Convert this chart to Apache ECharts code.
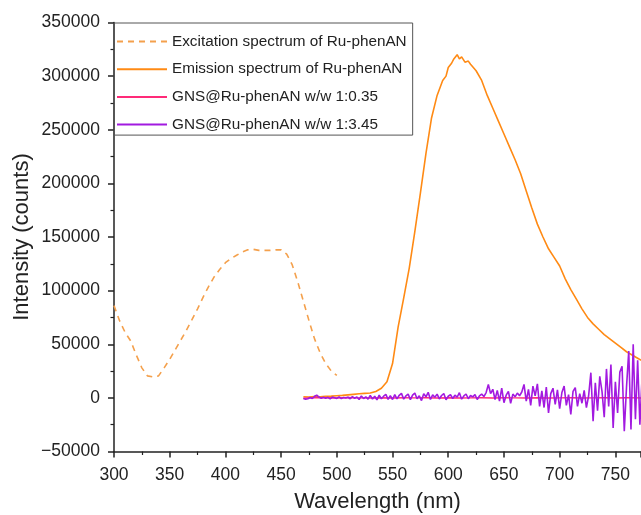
<!DOCTYPE html>
<html>
<head>
<meta charset="utf-8">
<script src="https://cdn.jsdelivr.net/npm/echarts@6/dist/echarts.min.js"></script>
<style>
html,body{margin:0;padding:0;background:#fff;}
#chart{width:641px;height:515px;}
</style>
</head>
<body>
<div id="chart"></div>
<script>
var seriesNames = [
  'Excitation spectrum of Ru-phenAN',
  'Emission spectrum of Ru-phenAN',
  'GNS@Ru-phenAN w/w 1:0.35',
  'GNS@Ru-phenAN w/w 1:3.45'
];

var excWl = [300,305,310,315,320,325,330,335,340,345,350,355,360,365,370,375,380,385,390,395,400,405,410,415,420,425,430,435,440,445,450,455,460,465,470,475,480,485,490,495,500];
var excVal = [86000,72000,61000,53000,40000,28000,20500,19500,20500,28000,36000,45000,54000,63000,73000,83000,94000,104000,113000,120000,126000,130000,133000,136000,138000,138500,137500,137500,137500,138000,138000,134000,124000,108000,90000,72000,55000,42000,32000,25000,21000];

var emWl = [470,475,480,485,490,495,500,505,510,515,520,525,530,535,540,545,550,555,560,565,570,575,580,585,590,595,598,600,603,605,608,610,612,615,618,620,625,630,635,640,645,650,655,660,665,670,675,680,685,690,695,700,705,710,715,720,725,730,735,740,745,750,755,760,765,770,775];
var emVal = [1000,800,1200,1000,1500,1600,2000,2300,2800,3300,3800,4200,4500,6000,9000,15000,32000,66000,93000,121000,155000,191000,228000,261000,282000,296000,300000,308000,312000,316000,320000,316000,318000,313000,314000,311000,305000,296000,282000,270000,258000,246000,234000,222000,209000,193000,177000,162000,150000,139000,131000,123000,111000,101000,92000,83000,75000,69000,64000,59000,55000,51000,47000,43000,40000,37000,34000];

var pinkWl = [470,480,490,500,510,520,530,540,550,560,570,580,590,600,610,620,630,640,650,660,670,680,690,700,710,720,730,740,750,760,770,775];
var pinkVal = [-300,200,100,-200,300,0,-100,200,-200,100,0,200,-100,100,-200,0,200,-100,100,0,-200,200,-100,0,100,-200,0,200,-100,100,0,-100];

var purpleStart = 470, purpleStep = 2;
var purpleVal = [
  -500,-1200,-800,300,-600,1500,2500,800,-400,600,
  -300,500,-900,700,200,-500,900,-700,400,-200,
  600,-800,1200,-400,800,-1500,1800,-600,1000,-1200,
  2200,-1000,1500,-1800,2500,-800,1600,3200,-1400,2000,
  -1500,3000,-900,2400,4200,-1200,1800,3500,-1600,2600,
  4500,-800,2000,-2500,3800,1000,5200,-1500,2800,600,
  3500,-1000,2200,4000,-1800,1500,3000,-600,2500,800,
  4800,-1200,1800,3600,-800,2200,900,3000,-1500,1800,
  3500,1200,5000,12500,4000,8000,-1500,7000,-3000,9000,
  -4500,2500,6000,-5000,3500,1000,4500,2000,5500,12500,
  -3000,8000,-7000,11000,2000,13000,-8000,6500,-9000,10000,
  -14000,4000,9000,-6000,7500,-10000,5000,11000,-7000,3000,
  -15500,6000,9500,-8000,4000,-5000,7000,-9000,2000,23500,
  -21800,14000,-12000,20000,6000,-18000,27000,-8000,31000,-28000,
  15000,-14000,24000,29500,-31000,10000,43600,-29500,50000,-20000,
  35000,-25000,20000
];

var xTicks = {min:300, max:773, interval:50};
var yTicks = {min:-50000, max:350000, interval:50000};

function pairs(xs, ys){ return xs.map(function(x,i){ return [x, ys[i]]; }); }
var purpleData = purpleVal.map(function(v,i){ return [purpleStart + i*purpleStep, v]; });

var chart = echarts.init(document.getElementById('chart'), null, {renderer:'canvas'});
var axisColor = '#222';
var font = 'Liberation Sans, Arial, sans-serif';
chart.setOption({
  animation:false,
  backgroundColor:'#fff',
  grid:{left:114, top:22.5, right:0, bottom:63.5, containLabel:false, outerBoundsMode:'none'},
  legend:{
    orient:'vertical', left:114, top:23,
    padding:[11,6,3,2],
    itemWidth:50, itemHeight:14, itemGap:12.7,
    borderColor:'#555', borderWidth:1,
    itemStyle:{opacity:0},
    textStyle:{fontSize:15.3, color:'#222', fontFamily:font},
    data:seriesNames
  },
  xAxis:{
    type:'value', min:xTicks.min, max:xTicks.max, interval:xTicks.interval,
    name:'Wavelength (nm)', nameLocation:'middle', nameGap:39,
    nameTextStyle:{fontSize:22, color:'#222', fontFamily:font},
    axisLine:{onZero:false, lineStyle:{color:axisColor, width:1.5}},
    axisTick:{inside:false, length:6, lineStyle:{width:1.5}},
    minorTick:{show:true, splitNumber:2, length:3.5, lineStyle:{color:axisColor, width:1.2}},
    axisLabel:{fontSize:17.5, color:'#222', fontFamily:font, margin:14.5, showMaxLabel:false},
    splitLine:{show:false}
  },
  yAxis:{
    type:'value', min:yTicks.min, max:yTicks.max, interval:yTicks.interval,
    name:'Intensity (counts)', nameLocation:'middle', nameGap:81, nameRotate:90,
    nameMoveOverlap:false,
    nameTextStyle:{fontSize:22, color:'#222', fontFamily:font},
    axisLine:{show:true, onZero:false, lineStyle:{color:axisColor, width:1.5}},
    axisTick:{show:true, inside:false, length:6, lineStyle:{width:1.5}},
    minorTick:{show:true, splitNumber:2, length:3.5, lineStyle:{color:axisColor, width:1.2}},
    axisLabel:{fontSize:17.5, color:'#222', fontFamily:font, margin:14,
      formatter:function(v){ return String(v).replace('-', '\u2212'); }},
    splitLine:{show:false}
  },
  series:[
    {name:seriesNames[0], type:'line', showSymbol:false, symbol:'none', data:pairs(excWl, excVal),
      lineStyle:{color:'#F4A04C', width:1.6, type:[6,5]}, itemStyle:{color:'#F4A04C'}},
    {name:seriesNames[1], type:'line', showSymbol:false, symbol:'none', data:pairs(emWl, emVal),
      lineStyle:{color:'#FF8A14', width:1.6}, itemStyle:{color:'#FF8A14'}},
    {name:seriesNames[2], type:'line', showSymbol:false, symbol:'none', data:pairs(pinkWl, pinkVal),
      lineStyle:{color:'#FF2A78', width:1.5}, itemStyle:{color:'#FF2A78'}},
    {name:seriesNames[3], type:'line', showSymbol:false, symbol:'none', data:purpleData,
      lineStyle:{color:'#A21AE0', width:1.6}, itemStyle:{color:'#A21AE0'}}
  ]
});
</script>
</body>
</html>
